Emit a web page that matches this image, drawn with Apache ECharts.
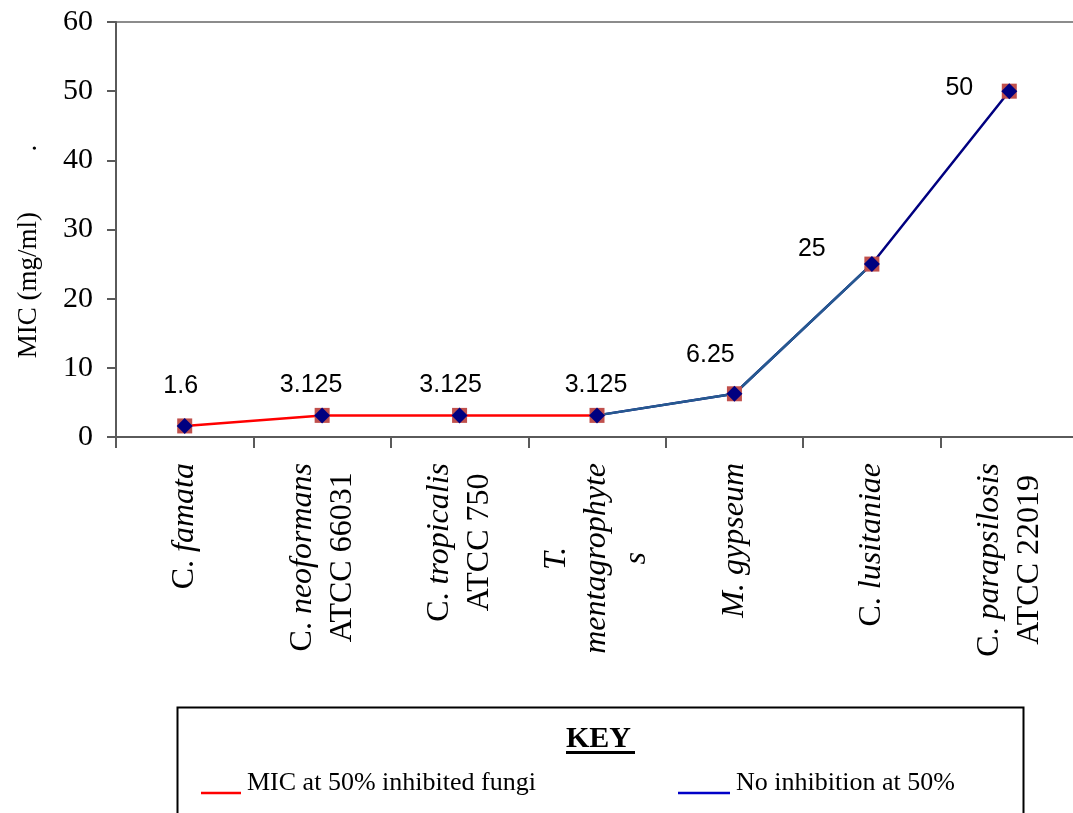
<!DOCTYPE html>
<html>
<head>
<meta charset="utf-8">
<script src="https://cdn.jsdelivr.net/npm/echarts@6/dist/echarts.min.js"></script>
<style>
  html, body { margin: 0; padding: 0; background: #ffffff; }
  #chart { width: 1073px; height: 813px; }
</style>
</head>
<body>
<div id="chart"></div>
<script>
// Fungal strains (line breaks as they wrap under the axis)
const categories = [
  'C. famata',
  'C. neoformans\nATCC 66031',
  'C. tropicalis\nATCC 750',
  'T.\nmentagrophyte\ns',
  'M. gypseum',
  'C. lusitaniae',
  'C. parapsilosis\nATCC 22019'
];

// Minimum inhibitory concentration, mg/ml
const micValues = [1.6, 3.125, 3.125, 3.125, 6.25, 25, 50];

// Which strains belong to each line of the key
const inhibitedRange = [0, 3];     // red line
const notInhibitedRange = [3, 6];  // blue line
const steelSegmentRange = [3, 5];  // lighter blue part of the blue line

const seriesNames = ['MIC at 50% inhibited fungi', 'No inhibition at 50%'];

const yMin = 0, yMax = 60, yInterval = 10;
const yAxisTitle = 'MIC (mg/ml)         .';
const keyTitle = 'KEY';

// Placement of the value labels relative to each marker (layout only)
const labelShift = [[-4, -40], [-11, -30], [-9, -30], [-1, -30], [-24, -39], [-60, -15], [-50, -3]];

const SERIF = "'Liberation Serif', 'Times New Roman', serif";
const SANS = "'Liberation Sans', Arial, sans-serif";

function slice(range) {
  return micValues.map((v, i) => (i >= range[0] && i <= range[1]) ? v : null);
}

function formatCategory(label) {
  return label.split('\n').map(line => {
    const m = line.match(/^([A-Z]\.)\s(.*)$/);
    if (m) {
      const genus = m[1] === 'C.' ? 'n' : 'i';
      return '{' + genus + '|' + m[1] + ' }{i|' + m[2] + '}';
    }
    if (/^ATCC/.test(line)) return '{n|' + line + '}';
    return '{i|' + line + '}';
  }).join('\n');
}

const chart = echarts.init(document.getElementById('chart'), null, { renderer: 'canvas' });

const option = {
  backgroundColor: '#ffffff',
  animation: false,
  grid: {
    left: 116, top: 22, width: 962, height: 415,
    outerBoundsMode: 'none',
    containLabel: false,
    show: true, borderColor: '#8c8c8c', borderWidth: 2, backgroundColor: 'transparent'
  },
  xAxis: {
    type: 'category',
    data: categories,
    boundaryGap: true,
    axisLine: { show: true, lineStyle: { color: '#5a5a5a', width: 2 } },
    axisTick: { show: true, length: 11, lineStyle: { color: '#5a5a5a', width: 2 } },
    axisLabel: {
      interval: 0,
      rotate: 90,
      margin: 26,
      color: '#000',
      formatter: formatCategory,
      rich: {
        n: { fontFamily: SERIF, fontSize: 32, fontStyle: 'normal', lineHeight: 40, align: 'center', color: '#000' },
        i: { fontFamily: SERIF, fontSize: 32, fontStyle: 'italic', lineHeight: 40, align: 'center', color: '#000' }
      }
    },
    splitLine: { show: false }
  },
  yAxis: {
    type: 'value',
    min: yMin, max: yMax, interval: yInterval,
    name: yAxisTitle,
    nameLocation: 'middle',
    nameGap: 74,
    nameTextStyle: { fontFamily: SERIF, fontSize: 27, color: '#000', padding: [0, 44, 0, 0] },
    axisLine: { show: true, lineStyle: { color: '#5a5a5a', width: 2 } },
    axisTick: { show: true, length: 9, lineStyle: { color: '#5a5a5a', width: 2 } },
    axisLabel: { fontFamily: SERIF, fontSize: 30, color: '#000', margin: 23 },
    splitLine: { show: false }
  },
  legend: [
    {
      left: 196, top: 765, orient: 'horizontal',
      itemWidth: 40, itemHeight: 24, itemGap: 0,
      icon: 'path://M0,0L1,0M0,20L40,20L40,22.5L0,22.5Z',
      itemStyle: { borderWidth: 0 },
      textStyle: { fontFamily: SERIF, fontSize: 26, color: '#000', padding: [0, 0, 0, 1] },
      data: [{ name: seriesNames[0], itemStyle: { color: '#ff0000' } }],
      selectedMode: false
    },
    {
      left: 673, top: 765, orient: 'horizontal',
      itemWidth: 52, itemHeight: 24, itemGap: 0,
      icon: 'path://M0,0L1,0M0,20L52,20L52,22.5L0,22.5Z',
      itemStyle: { borderWidth: 0 },
      textStyle: { fontFamily: SERIF, fontSize: 26, color: '#000', padding: [0, 0, 0, 1] },
      data: [{ name: seriesNames[1], itemStyle: { color: '#0000c8' } }],
      selectedMode: false
    }
  ],
  graphic: [
    {
      type: 'rect', left: 175, top: 705, z: 0,
      shape: { width: 846, height: 130 },
      style: { fill: 'none', stroke: '#000', lineWidth: 2 }
    },
    {
      type: 'text', left: 566, top: 724, z: 1,
      style: { text: keyTitle, font: 'bold 30px ' + SERIF, fill: '#000' }
    },
    {
      type: 'rect', left: 566, top: 751, z: 1,
      shape: { width: 69, height: 3 },
      style: { fill: '#000' }
    }
  ],
  series: [
    {
      name: seriesNames[0], type: 'line', data: slice(inhibitedRange),
      symbol: 'none', z: 2, connectNulls: false,
      lineStyle: { color: '#ff0000', width: 2.5 }, itemStyle: { color: '#ff0000' }
    },
    {
      name: seriesNames[1], type: 'line', data: slice(notInhibitedRange),
      symbol: 'none', z: 2,
      lineStyle: { color: '#000080', width: 2.5 }, itemStyle: { color: '#000080' }
    },
    {
      name: 'steel', type: 'line', data: slice(steelSegmentRange),
      symbol: 'none', z: 3,
      lineStyle: { color: '#265a90', width: 2.5 }, itemStyle: { color: '#265a90' }
    },
    {
      name: 'square', type: 'scatter', data: micValues,
      symbol: 'rect', symbolSize: 15, z: 4,
      itemStyle: { color: '#c0504d', opacity: 1 }
    },
    {
      name: 'diamond', type: 'scatter', z: 5,
      symbol: 'diamond', symbolSize: [16, 16],
      itemStyle: { color: '#000080', opacity: 1 },
      data: micValues.map((v, i) => ({
        value: v,
        label: { offset: labelShift[i] }
      })),
      label: {
        show: true, position: 'inside',
        fontFamily: SANS, fontSize: 25, color: '#000',
        align: 'center', verticalAlign: 'middle',
        formatter: p => String(p.value)
      }
    }
  ]
};

chart.setOption(option);
</script>
</body>
</html>
